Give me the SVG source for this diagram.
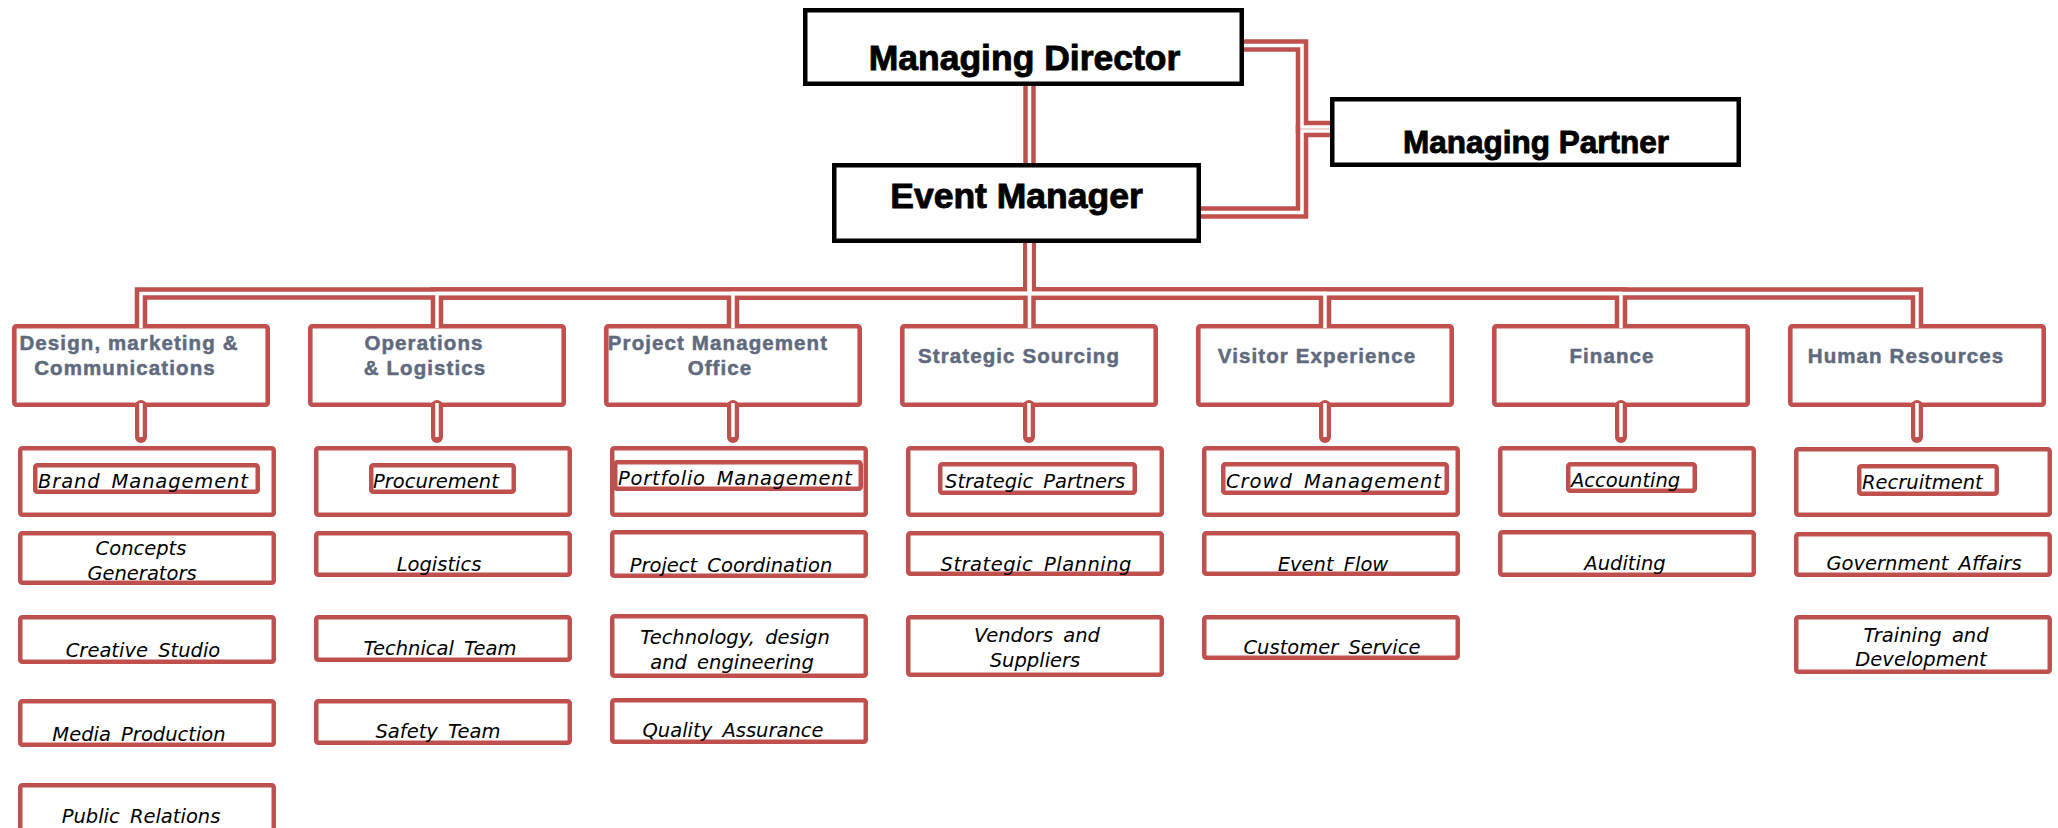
<svg xmlns="http://www.w3.org/2000/svg" width="2058" height="828" viewBox="0 0 2058 828">
<style>
.top{fill:#fff;stroke:#000;stroke-width:4.5}
.tt{font-family:"Liberation Sans",Arial,sans-serif;font-weight:bold;fill:#000;stroke:#000;stroke-width:0.9;text-anchor:middle}
.dept{fill:#fff;stroke:#C0504D;stroke-width:4.6}
.dt{font-family:"Liberation Sans",Arial,sans-serif;font-weight:bold;font-size:20.5px;fill:#5F6A7E;stroke:#5F6A7E;stroke-width:0.5;text-anchor:middle;letter-spacing:1.1px}
.sub{fill:#fff;stroke:#C0504D;stroke-width:4.5}
.hl{fill:none;stroke:#C0504D;stroke-width:4.5}
.st{font-family:"DejaVu Sans",Verdana,sans-serif;font-style:italic;font-size:19.5px;fill:#000;text-anchor:middle;word-spacing:4px}
.ls{text-anchor:start}
.cr{fill:none;stroke:#C0504D;stroke-width:12.5}
.cw{fill:none;stroke:#fff;stroke-width:3.5}
.stub{fill:none;stroke:#C0504D;stroke-width:12;stroke-linecap:round}
</style>

<g id="managing-director">
<rect class="top" x="805.25" y="10.25" width="436.5" height="73.5"/>
<text class="tt" x="1024.5" y="70" font-size="35.5">Managing Director</text>
</g>
<g id="event-manager">
<rect class="top" x="834.25" y="165.25" width="364.5" height="75.5"/>
<text class="tt" x="1016.5" y="208" font-size="35.5">Event Manager</text>
</g>
<g id="managing-partner">
<rect class="top" x="1332.25" y="99.25" width="406.5" height="65.5"/>
<text class="tt" x="1536" y="153" font-size="31.5">Managing Partner</text>
</g>

<g id="dept-design">
<rect class="dept" x="14.3" y="326.3" width="253.4" height="78.4" rx="2"/>
<text class="dt" x="129" y="350">Design, marketing &amp;</text>
<text class="dt" x="125" y="375">Communications</text>
</g>
<g id="dept-operations">
<rect class="dept" x="310.3" y="326.3" width="253.4" height="78.4" rx="2"/>
<text class="dt" x="424" y="350">Operations</text>
<text class="dt" x="425" y="375">&amp; Logistics</text>
</g>
<g id="dept-pmo">
<rect class="dept" x="606.3" y="326.3" width="253.4" height="78.4" rx="2"/>
<text class="dt" x="718" y="350">Project Management</text>
<text class="dt" x="720" y="375">Office</text>
</g>
<g id="dept-sourcing">
<rect class="dept" x="902.3" y="326.3" width="253.4" height="78.4" rx="2"/>
<text class="dt" x="1019" y="363">Strategic Sourcing</text>
</g>
<g id="dept-visitor">
<rect class="dept" x="1198.3" y="326.3" width="253.4" height="78.4" rx="2"/>
<text class="dt" x="1317" y="363">Visitor Experience</text>
</g>
<g id="dept-finance">
<rect class="dept" x="1494.3" y="326.3" width="253.4" height="78.4" rx="2"/>
<text class="dt" x="1612" y="363">Finance</text>
</g>
<g id="dept-hr">
<rect class="dept" x="1790.3" y="326.3" width="253.4" height="78.4" rx="2"/>
<text class="dt" x="1906" y="363">Human Resources</text>
</g>

<!-- Column 1 -->
<g id="brand-management">
<rect class="sub" x="20.25" y="448.25" width="253.5" height="66.5" rx="2"/>
<rect class="hl" x="35.25" y="465.25" width="222.5" height="26.5" rx="2"/>
<text class="st ls" x="38" y="488" textLength="210">Brand Management</text>
</g>
<g id="concepts-generators">
<rect class="sub" x="20.25" y="533.25" width="253.5" height="49.5" rx="2"/>
<text class="st" x="141" y="555">Concepts</text>
<text class="st" x="142" y="580">Generators</text>
</g>
<g id="creative-studio">
<rect class="sub" x="20.25" y="617.25" width="253.5" height="44.5" rx="2"/>
<text class="st" x="143" y="657">Creative Studio</text>
</g>
<g id="media-production">
<rect class="sub" x="20.25" y="701.25" width="253.5" height="43.5" rx="2"/>
<text class="st" x="139" y="741">Media Production</text>
</g>
<g id="public-relations">
<rect class="sub" x="20.25" y="785.25" width="253.5" height="60" rx="2"/>
<text class="st" x="141" y="823">Public Relations</text>
</g>

<!-- Column 2 -->
<g id="procurement">
<rect class="sub" x="316.25" y="448.25" width="253.5" height="66.5" rx="2"/>
<rect class="hl" x="371.25" y="465.25" width="142.5" height="26.5" rx="2"/>
<text class="st ls" x="373" y="488">Procurement</text>
</g>
<g id="logistics">
<rect class="sub" x="316.25" y="533.25" width="253.5" height="41.5" rx="2"/>
<text class="st" x="439" y="571">Logistics</text>
</g>
<g id="technical-team">
<rect class="sub" x="316.25" y="617.25" width="253.5" height="42.5" rx="2"/>
<text class="st" x="440" y="655">Technical Team</text>
</g>
<g id="safety-team">
<rect class="sub" x="316.25" y="701.25" width="253.5" height="41.5" rx="2"/>
<text class="st" x="438" y="738">Safety Team</text>
</g>

<!-- Column 3 -->
<g id="portfolio-management">
<rect class="sub" x="612.25" y="448.25" width="253.5" height="66.5" rx="2"/>
<rect class="hl" x="615.25" y="462.25" width="245.5" height="26.5" rx="2"/>
<text class="st ls" x="618" y="485" textLength="234">Portfolio Management</text>
</g>
<g id="project-coordination">
<rect class="sub" x="612.25" y="532.25" width="253.5" height="43.5" rx="2"/>
<text class="st" x="731" y="572">Project Coordination</text>
</g>
<g id="technology-design">
<rect class="sub" x="612.25" y="616.25" width="253.5" height="59.5" rx="2"/>
<text class="st" x="735" y="644">Technology, design</text>
<text class="st" x="732" y="669">and engineering</text>
</g>
<g id="quality-assurance">
<rect class="sub" x="612.25" y="700.25" width="253.5" height="41.5" rx="2"/>
<text class="st" x="733" y="737">Quality Assurance</text>
</g>

<!-- Column 4 -->
<g id="strategic-partners">
<rect class="sub" x="908.25" y="448.25" width="253.5" height="66.5" rx="2"/>
<rect class="hl" x="940.25" y="464.25" width="194.5" height="28.5" rx="2"/>
<text class="st ls" x="945" y="488">Strategic Partners</text>
</g>
<g id="strategic-planning">
<rect class="sub" x="908.25" y="533.25" width="253.5" height="40.5" rx="2"/>
<text class="st" x="1036" y="571" textLength="191">Strategic Planning</text>
</g>
<g id="vendors-suppliers">
<rect class="sub" x="908.25" y="617.25" width="253.5" height="57.5" rx="2"/>
<text class="st" x="1037" y="642">Vendors and</text>
<text class="st" x="1035" y="667">Suppliers</text>
</g>

<!-- Column 5 -->
<g id="crowd-management">
<rect class="sub" x="1204.25" y="448.25" width="253.5" height="66.5" rx="2"/>
<rect class="hl" x="1223.25" y="464.25" width="223.5" height="28.5" rx="2"/>
<text class="st ls" x="1226" y="488" textLength="215">Crowd Management</text>
</g>
<g id="event-flow">
<rect class="sub" x="1204.25" y="533.25" width="253.5" height="40.5" rx="2"/>
<text class="st" x="1333" y="571">Event Flow</text>
</g>
<g id="customer-service">
<rect class="sub" x="1204.25" y="617.25" width="253.5" height="40.5" rx="2"/>
<text class="st" x="1332" y="654">Customer Service</text>
</g>

<!-- Column 6 -->
<g id="accounting">
<rect class="sub" x="1500.25" y="448.25" width="253.5" height="66.5" rx="2"/>
<rect class="hl" x="1568.25" y="464.25" width="126.5" height="26.5" rx="2"/>
<text class="st ls" x="1571" y="487">Accounting</text>
</g>
<g id="auditing">
<rect class="sub" x="1500.25" y="532.25" width="253.5" height="42.5" rx="2"/>
<text class="st" x="1625" y="570">Auditing</text>
</g>

<!-- Column 7 -->
<g id="recruitment">
<rect class="sub" x="1796.25" y="449.25" width="253.5" height="65.5" rx="2"/>
<rect class="hl" x="1859.25" y="466.25" width="137.5" height="27.5" rx="2"/>
<text class="st ls" x="1862" y="489">Recruitment</text>
</g>
<g id="government-affairs">
<rect class="sub" x="1796.25" y="534.25" width="253.5" height="40.5" rx="2"/>
<text class="st" x="1924" y="570">Government Affairs</text>
</g>
<g id="training-development">
<rect class="sub" x="1796.25" y="617.25" width="253.5" height="54.5" rx="2"/>
<text class="st" x="1926" y="642">Training and</text>
<text class="st" x="1921" y="666">Development</text>
</g>

<g id="connectors">
<g class="cr">
<path d="M1029.5,86V163"/>
<path d="M1244,45.5H1302V127H1330"/>
<path d="M1201,212.5H1302V131H1330"/>
<path d="M1029.5,243V293.5H141V328"/>
<path d="M1029.5,243V293.5H437V328"/>
<path d="M1029.5,243V293.5H733V328"/>
<path d="M1029.5,243V328"/>
<path d="M1029.5,243V293.5H1325V328"/>
<path d="M1029.5,243V293.5H1621V328"/>
<path d="M1029.5,243V293.5H1917V328"/>
</g>
<g class="stub">
<path d="M141,406V437"/>
<path d="M437,406V437"/>
<path d="M733,406V437"/>
<path d="M1029,406V437"/>
<path d="M1325,406V437"/>
<path d="M1621,406V437"/>
<path d="M1917,406V437"/>
</g>
<g class="cw">
<path d="M1029.5,86V163"/>
<path d="M1244,45.5H1302V127H1330"/>
<path d="M1201,212.5H1302V131H1330"/>
<path d="M1029.5,243V293.5H141V328"/>
<path d="M1029.5,243V293.5H437V328"/>
<path d="M1029.5,243V293.5H733V328"/>
<path d="M1029.5,243V328"/>
<path d="M1029.5,243V293.5H1325V328"/>
<path d="M1029.5,243V293.5H1621V328"/>
<path d="M1029.5,243V293.5H1917V328"/>
<path d="M141,403V437"/>
<path d="M437,403V437"/>
<path d="M733,403V437"/>
<path d="M1029,403V437"/>
<path d="M1325,403V437"/>
<path d="M1621,403V437"/>
<path d="M1917,403V437"/>
</g>
</g>
</svg>
